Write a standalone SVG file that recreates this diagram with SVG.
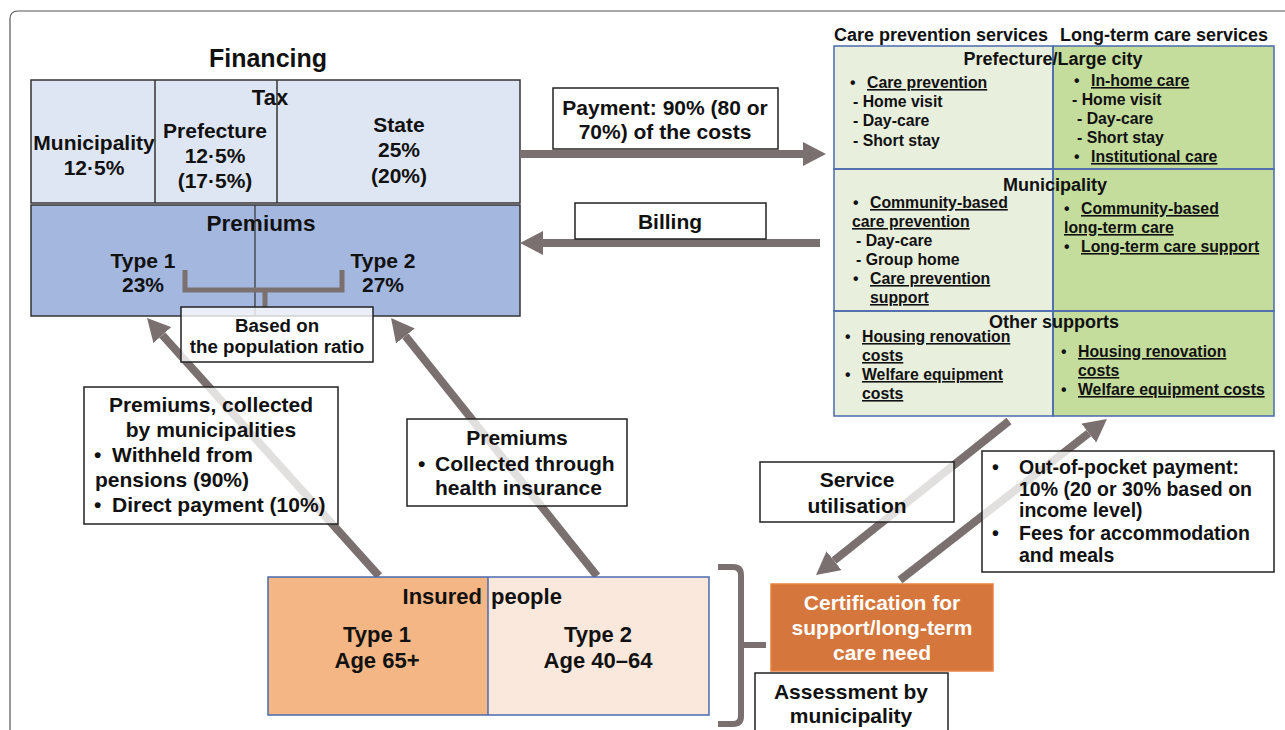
<svg xmlns="http://www.w3.org/2000/svg" width="1285" height="730" viewBox="0 0 1285 730">
<style>
text{font-family:"Liberation Sans",Arial,sans-serif;font-weight:bold;fill:#111}
.c{text-anchor:middle}
.u{text-decoration:underline}
.lbl{fill:#fff;fill-opacity:0.78;stroke:#222;stroke-width:1.5}
.arr{stroke:#7b7070;stroke-width:8;fill:none;marker-end:url(#ah)}
.tx{font-size:21px}
.it{font-size:15.8px}
.lb{font-size:21px}
.oop{font-size:19.5px}
.cert{font-size:21px;fill:#fff}
</style>
<defs>
<marker id="ah" markerUnits="userSpaceOnUse" markerWidth="24" markerHeight="24" viewBox="0 0 24 24" refX="0" refY="12" orient="auto">
<path d="M0,0 L23,12 L0,24 Z" fill="#7b7070"/>
</marker>
</defs>
<rect width="1285" height="730" fill="#fff"/>
<path d="M10,730 V19 Q10,11 18,11 H1285" fill="none" stroke="#555" stroke-width="1.2"/>

<g id="financing">
<text x="268" y="67" class="c" font-size="25">Financing</text>
<rect x="31" y="80" width="489" height="123" fill="#dfe6f3" stroke="#333" stroke-width="1.5"/>
<text x="270" y="105" class="c" font-size="22">Tax</text>
<text x="94" y="150" class="c tx">Municipality</text>
<text x="94" y="175" class="c tx">12·5%</text>
<text x="215" y="138" class="c tx">Prefecture</text>
<text x="215" y="163" class="c tx">12·5%</text>
<text x="215" y="188" class="c tx">(17·5%)</text>
<text x="399" y="132" class="c tx">State</text>
<text x="399" y="157" class="c tx">25%</text>
<text x="399" y="183" class="c tx">(20%)</text>
<line x1="155" y1="80" x2="155" y2="203" stroke="#333" stroke-width="1.5"/>
<line x1="277" y1="80" x2="277" y2="203" stroke="#333" stroke-width="1.5"/>
<rect x="31" y="205" width="489" height="111" fill="#a4b7de" stroke="#333" stroke-width="1.5"/>
<text x="261" y="231" class="c" font-size="22.5">Premiums</text>
<text x="143" y="268" class="c tx">Type 1</text>
<text x="143" y="292" class="c tx">23%</text>
<text x="383" y="268" class="c tx">Type 2</text>
<text x="383" y="292" class="c tx">27%</text>
<line x1="255" y1="205" x2="255" y2="316" stroke="#333" stroke-width="1.2"/>
<path d="M185,270 V290 H342 V270 M265,290 V308" fill="none" stroke="#7b7070" stroke-width="5"/>
</g>

<g id="connectors">
<line x1="379" y1="576" x2="162.4" y2="335.1" class="arr"/>
<line x1="597" y1="576" x2="405.4" y2="336" class="arr"/>
<line x1="520" y1="154" x2="803" y2="154" class="arr"/>
<line x1="820" y1="243" x2="543" y2="243" class="arr"/>
<line x1="1009" y1="421" x2="834" y2="560.7" class="arr"/>
<line x1="900" y1="580" x2="1088.8" y2="433.1" class="arr"/>
<path d="M718,567 H733 Q741,567 741,575 V716 Q741,724 733,724 H718 M741,645 H766" fill="none" stroke="#7b7070" stroke-width="6"/>
</g>

<g id="based-on">
<rect x="181" y="307" width="192" height="55" class="lbl"/>
<text x="277" y="332" class="c" font-size="18.7">Based on</text>
<text x="277" y="353" class="c" font-size="18.7">the population ratio</text>
</g>

<g id="label-premiums-municipal">
<rect x="84" y="387" width="254" height="137" class="lbl"/>
<text x="211" y="412" class="c lb">Premiums, collected</text>
<text x="211" y="437" class="c lb">by municipalities</text>
<text x="94" y="462" class="lb">•</text>
<text x="112" y="462" class="lb">Withheld from</text>
<text x="95" y="487" class="lb">pensions (90%)</text>
<text x="94" y="512" class="lb">•</text>
<text x="112" y="512" class="lb">Direct payment (10%)</text>
</g>

<g id="label-premiums-health">
<rect x="407" y="419" width="220" height="87" class="lbl"/>
<text x="517" y="445" class="c lb">Premiums</text>
<text x="418" y="471" class="lb">•</text>
<text x="435" y="471" class="lb">Collected through</text>
<text x="435" y="495" class="lb">health insurance</text>
</g>

<g id="label-payment">
<rect x="553" y="88" width="225" height="61" class="lbl"/>
<text x="665" y="115" class="c lb">Payment: 90% (80 or</text>
<text x="665" y="139" class="c lb">70%) of the costs</text>
</g>

<g id="label-billing">
<rect x="575" y="203" width="191" height="36" class="lbl"/>
<text x="670" y="229" class="c lb">Billing</text>
</g>

<g id="services">
<text x="834" y="41" font-size="18">Care prevention services</text>
<text x="1060" y="41" font-size="18">Long-term care services</text>
<rect x="834" y="46" width="219" height="370" fill="#e8efdd"/>
<rect x="1053" y="46" width="221" height="370" fill="#c4dc9c"/>
<g fill="none" stroke="#4a6aaf" stroke-width="1.5">
<rect x="834" y="46" width="219" height="123"/>
<rect x="1053" y="46" width="221" height="123"/>
<rect x="834" y="169" width="219" height="142"/>
<rect x="1053" y="169" width="221" height="142"/>
<rect x="834" y="311" width="219" height="105"/>
<rect x="1053" y="311" width="221" height="105"/>
</g>
<text x="1053" y="65" class="c" font-size="18">Prefecture/Large city</text>
<text x="850" y="88" class="it">•</text>
<text x="867" y="88" class="it u">Care prevention</text>
<text x="853" y="107" class="it">- Home visit</text>
<text x="853" y="126" class="it">- Day-care</text>
<text x="853" y="146" class="it">- Short stay</text>
<text x="1074" y="86" class="it">•</text>
<text x="1091" y="86" class="it u">In-home care</text>
<text x="1072" y="105" class="it">- Home visit</text>
<text x="1077" y="124" class="it">- Day-care</text>
<text x="1077" y="143" class="it">- Short stay</text>
<text x="1074" y="162" class="it">•</text>
<text x="1091" y="162" class="it u">Institutional care</text>

<text x="1055" y="191" class="c" font-size="18">Municipality</text>
<text x="853" y="208" class="it">•</text>
<text x="870" y="208" class="it u">Community-based</text>
<text x="852" y="227" class="it u">care prevention</text>
<text x="856" y="246" class="it">- Day-care</text>
<text x="856" y="265" class="it">- Group home</text>
<text x="853" y="284" class="it">•</text>
<text x="870" y="284" class="it u">Care prevention</text>
<text x="870" y="303" class="it u">support</text>
<text x="1064" y="214" class="it">•</text>
<text x="1081" y="214" class="it u">Community-based</text>
<text x="1064" y="233" class="it u">long-term care</text>
<text x="1064" y="252" class="it">•</text>
<text x="1081" y="252" class="it u">Long-term care support</text>

<text x="1054" y="328" class="c" font-size="18">Other supports</text>
<text x="845" y="342" class="it">•</text>
<text x="862" y="342" class="it u">Housing renovation</text>
<text x="862" y="361" class="it u">costs</text>
<text x="845" y="380" class="it">•</text>
<text x="862" y="380" class="it u">Welfare equipment</text>
<text x="862" y="399" class="it u">costs</text>
<text x="1061" y="357" class="it">•</text>
<text x="1078" y="357" class="it u">Housing renovation</text>
<text x="1078" y="376" class="it u">costs</text>
<text x="1061" y="395" class="it">•</text>
<text x="1078" y="395" class="it u">Welfare equipment costs</text>
</g>

<g id="label-service">
<rect x="760" y="462" width="194" height="60" class="lbl"/>
<text x="857" y="487" class="c" font-size="21">Service</text>
<text x="857" y="513" class="c" font-size="21">utilisation</text>
</g>

<g id="label-oop">
<rect x="982" y="451" width="292" height="121" class="lbl"/>
<text x="992" y="474" class="oop">•</text>
<text x="1019" y="474" class="oop">Out-of-pocket payment:</text>
<text x="1019" y="496" class="oop">10% (20 or 30% based on</text>
<text x="1019" y="517" class="oop">income level)</text>
<text x="992" y="540" class="oop">•</text>
<text x="1019" y="540" class="oop">Fees for accommodation</text>
<text x="1019" y="562" class="oop">and meals</text>
</g>

<g id="insured">
<rect x="268" y="577" width="220" height="138" fill="#f3b684"/>
<rect x="488" y="577" width="221" height="138" fill="#fbe8dc"/>
<rect x="268" y="577" width="441" height="138" fill="none" stroke="#4a6aaf" stroke-width="1.5"/>
<line x1="488" y1="577" x2="488" y2="715" stroke="#4a6aaf" stroke-width="1.5"/>
<text x="482" y="604" font-size="22" text-anchor="end">Insured</text>
<text x="491" y="604" font-size="22">people</text>
<text x="377" y="642" class="c" font-size="22">Type 1</text>
<text x="377" y="668" class="c" font-size="22">Age 65+</text>
<text x="598" y="642" class="c" font-size="22">Type 2</text>
<text x="598" y="668" class="c" font-size="22">Age 40–64</text>
</g>

<g id="certification">
<rect x="771" y="584" width="222" height="87" fill="#d5763c" stroke="#e8823f" stroke-width="1.5"/>
<text x="882" y="610" class="c cert">Certification for</text>
<text x="882" y="635" class="c cert">support/long-term</text>
<text x="882" y="660" class="c cert">care need</text>
</g>

<g id="assessment">
<rect x="755" y="673" width="193" height="62" fill="#fff" stroke="#222" stroke-width="1.5"/>
<text x="851" y="699" class="c" font-size="21">Assessment by</text>
<text x="851" y="723" class="c" font-size="21">municipality</text>
</g>
</svg>
